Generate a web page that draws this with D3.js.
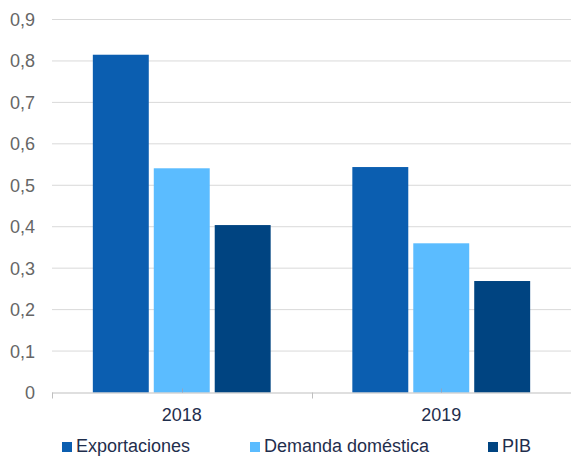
<!DOCTYPE html>
<html>
<head>
<meta charset="utf-8">
<script src="https://cdn.jsdelivr.net/npm/d3@7"></script>
<style>
  body { margin: 0; background: #fff; }
  text { font-family: "Liberation Sans", Arial, sans-serif; }
</style>
</head>
<body>
<svg id="chart" width="571" height="457"></svg>
<script>
// datos
const years = ['2018', '2019'];
const seriesNames = ['Exportaciones', 'Demanda doméstica', 'PIB'];
const exportaciones = [0.815, 0.544];
const demanda = [0.541, 0.360];
const pib = [0.404, 0.269];
const yTicks = [0, 0.1, 0.2, 0.3, 0.4, 0.5, 0.6, 0.7, 0.8, 0.9];
const colors = ['#0b5eb0', '#5bbcff', '#004481'];

const svg = d3.select('#chart');
const plotLeft = 52;
const plotRight = 571;
const plotTop = 19.5;
const plotBottom = 392.5;

const rows = years.map((y, i) => ({
  year: y,
  values: [exportaciones[i], demanda[i], pib[i]]
}));

const xScale = d3.scaleBand()
  .domain(years)
  .range([plotLeft, plotRight]);

const xInner = d3.scaleBand()
  .domain(seriesNames)
  .range([0, xScale.bandwidth()])
  .paddingInner(0.082)
  .paddingOuter(0.67);

const yScale = d3.scaleLinear()
  .domain([0, 0.9])
  .range([plotBottom, plotTop]);

const fmt = (d) => d === 0 ? '0' : d3.format('.1f')(d).replace('.', ',');

// lineas de cuadricula
svg.append('g')
  .selectAll('line')
  .data(yTicks.slice(1))
  .enter()
  .append('line')
  .attr('x1', plotLeft)
  .attr('x2', plotRight)
  .attr('y1', (d) => yScale(d))
  .attr('y2', (d) => yScale(d))
  .attr('stroke', '#d9d9d9')
  .attr('stroke-width', 1);

// etiquetas eje y
svg.append('g')
  .selectAll('text')
  .data(yTicks)
  .enter()
  .append('text')
  .attr('x', 35)
  .attr('y', (d) => yScale(d))
  .attr('dy', '0.36em')
  .attr('text-anchor', 'end')
  .attr('fill', '#666666')
  .style('font-size', '18px')
  .text(fmt);

// barras
const groups = svg.selectAll('.grupo')
  .data(rows)
  .enter()
  .append('g')
  .attr('class', 'grupo')
  .attr('transform', (d) => `translate(${xScale(d.year)}, 0)`);

groups.selectAll('rect')
  .data((d) => d.values.map((v, k) => ({ name: seriesNames[k], value: v, k })))
  .enter()
  .append('rect')
  .attr('x', (d) => xInner(d.name))
  .attr('y', (d) => yScale(d.value))
  .attr('width', xInner.bandwidth())
  .attr('height', (d) => plotBottom - yScale(d.value))
  .attr('fill', (d) => colors[d.k]);

// eje x
const xAxis = svg.append('g');
xAxis.append('line')
  .attr('x1', plotLeft)
  .attr('x2', plotRight)
  .attr('y1', plotBottom + 0.5)
  .attr('y2', plotBottom + 0.5)
  .attr('stroke', '#bfbfbf')
  .attr('stroke-width', 1);

const bounds = [plotLeft, xScale('2019')];
xAxis.selectAll('.tickb')
  .data(bounds)
  .enter()
  .append('line')
  .attr('x1', (d) => Math.round(d) + 0.5)
  .attr('x2', (d) => Math.round(d) + 0.5)
  .attr('y1', plotBottom)
  .attr('y2', plotBottom + 6)
  .attr('stroke', '#bfbfbf');

xAxis.selectAll('.tickc')
  .data(years)
  .enter()
  .append('line')
  .attr('x1', (d) => Math.round(xScale(d) + xScale.bandwidth() / 2) + 0.5)
  .attr('x2', (d) => Math.round(xScale(d) + xScale.bandwidth() / 2) + 0.5)
  .attr('y1', plotBottom - 4)
  .attr('y2', plotBottom)
  .attr('stroke', '#8fa7c4');

xAxis.selectAll('text')
  .data(years)
  .enter()
  .append('text')
  .attr('x', (d) => xScale(d) + xScale.bandwidth() / 2)
  .attr('y', 421)
  .attr('text-anchor', 'middle')
  .attr('fill', '#1f2e4d')
  .style('font-size', '18px')
  .text((d) => d);

// leyenda
const legendX = [62, 250, 488];
const legend = svg.selectAll('.leyenda')
  .data(seriesNames)
  .enter()
  .append('g')
  .attr('class', 'leyenda')
  .attr('transform', (d, i) => `translate(${legendX[i]}, 442)`);

legend.append('rect')
  .attr('width', 10)
  .attr('height', 10)
  .attr('fill', (d, i) => colors[i]);

legend.append('text')
  .attr('x', 14)
  .attr('y', 10)
  .attr('fill', '#1f2e4d')
  .style('font-size', '18px')
  .text((d) => d);
</script>
</body>
</html>
